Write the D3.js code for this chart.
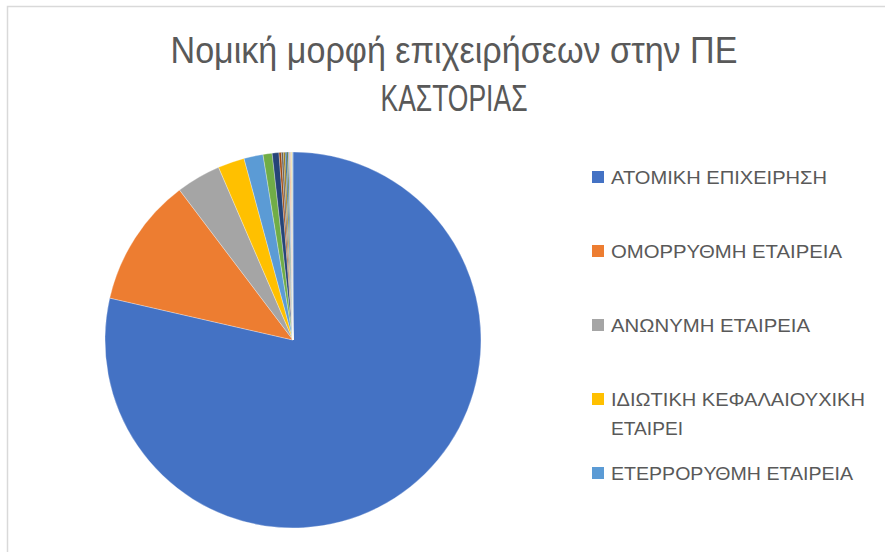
<!DOCTYPE html>
<html>
<head>
<meta charset="utf-8">
<script src="https://cdn.jsdelivr.net/npm/d3@7"></script>
<style>
  html, body { margin: 0; padding: 0; background: #fff; }
  svg { display: block; }
</style>
</head>
<body>
<svg id="chart" width="885" height="552"></svg>
<script>
// Legal forms, in chart order (only the first five fit in the legend)
const categories = [
    'ΑΤΟΜΙΚΗ ΕΠΙΧΕΙΡΗΣΗ',
    'ΟΜΟΡΡΥΘΜΗ ΕΤΑΙΡΕΙΑ',
    'ΑΝΩΝΥΜΗ ΕΤΑΙΡΕΙΑ',
    'ΙΔΙΩΤΙΚΗ ΚΕΦΑΛΑΙΟΥΧΙΚΗ ΕΤΑΙΡΕΙ',
    'ΕΤΕΡΡΟΡΥΘΜΗ ΕΤΑΙΡΕΙΑ',
    'ΕΤΑΙΡΕΙΑ ΠΕΡΙΟΡΙΣΜΕΝΗΣ ΕΥΘΥΝΗΣ',
    'ΜΟΝΟΠΡΟΣΩΠΗ ΕΠΕ',
    'ΣΥΝΕΤΑΙΡΙΣΜΟΣ',
    'ΑΣΤΙΚΗ ΕΤΑΙΡΕΙΑ',
    'ΚΟΙΝΟΠΡΑΞΙΑ',
    'ΥΠΟΚΑΤΑΣΤΗΜΑ ΑΛΛΟΔΑΠΗΣ',
    'ΚΟΙΝΩΝΙΑ ΑΣΤΙΚΟΥ ΔΙΚΑΙΟΥ',
    'ΑΦΑΝΗΣ ΕΤΑΙΡΕΙΑ',
    'ΝΠΙΔ',
    'ΝΠΔΔ',
    'ΣΩΜΑΤΕΙΟ',
    'ΑΛΛΟ'
];
// Share of businesses (%)
const shares = [78.5, 11.1, 3.83, 2.28, 1.64, 0.78, 0.58, 0.2, 0.18, 0.15, 0.14, 0.12, 0.1, 0.09, 0.08, 0.07, 0.06];
const legendCount = 5;
const titleLines = ['Νομική μορφή επιχειρήσεων στην ΠΕ', 'ΚΑΣΤΟΡΙΑΣ'];

const palette = ['#4472c4', '#ed7d31', '#a5a5a5', '#ffc000', '#5b9bd5', '#70ad47',
    '#264478', '#9e480e', '#636363', '#997300', '#255e91', '#43682b',
    '#698ed0', '#f1975a', '#b7b7b7', '#ffcd33', '#7cafdd'];

const svg = d3.select('#chart');
const textColor = '#595959';

// Chart area border (runs off the right/bottom like the screenshot)
svg.append('rect')
    .attr('x', 7.5).attr('y', 6.5)
    .attr('width', 900).attr('height', 600)
    .style('fill', '#fff')
    .style('stroke', '#d9d9d9')
    .style('stroke-width', 1.5);

// Title (squeezed to the narrow width of the original font)
const titleWidths = [567, 147];
svg.append('g').selectAll('text')
    .data(titleLines)
    .join('text')
    .attr('x', 454)
    .attr('y', (d, i) => 63 + i * 48)
    .attr('text-anchor', 'middle')
    .attr('textLength', (d, i) => titleWidths[i])
    .attr('lengthAdjust', 'spacingAndGlyphs')
    .style('font-family', '"Liberation Sans", Arial, sans-serif')
    .style('font-size', '37px')
    .style('fill', textColor)
    .text(d => d);

// Pie
const cx = 293, cy = 340, radius = 188;
const color = d3.scaleOrdinal().domain(categories).range(palette);
const pie = d3.pie().sort(null).value((d, i) => shares[i]);
const arc = d3.arc().innerRadius(0).outerRadius(radius);

svg.append('g')
    .attr('transform', `translate(${cx}, ${cy})`)
    .selectAll('path')
    .data(pie(categories))
    .join('path')
    .attr('d', arc)
    .style('fill', d => color(d.data))
    .style('stroke', '#fff')
    .style('stroke-width', 0.3);

// Legend
const legendY = d3.scalePoint()
    .domain(categories.slice(0, legendCount))
    .range([177, 473]);

const legend = svg.append('g').selectAll('g')
    .data(categories.slice(0, legendCount))
    .join('g')
    .attr('transform', d => `translate(592, ${legendY(d)})`);

legend.append('rect')
    .attr('x', 0).attr('y', -6)
    .attr('width', 12).attr('height', 12)
    .style('fill', d => color(d));

const legendLines = {
    'ΙΔΙΩΤΙΚΗ ΚΕΦΑΛΑΙΟΥΧΙΚΗ ΕΤΑΙΡΕΙ': ['ΙΔΙΩΤΙΚΗ ΚΕΦΑΛΑΙΟΥΧΙΚΗ', 'ΕΤΑΙΡΕΙ']
};
const legendWidths = {
    'ΑΤΟΜΙΚΗ ΕΠΙΧΕΙΡΗΣΗ': 216,
    'ΟΜΟΡΡΥΘΜΗ ΕΤΑΙΡΕΙΑ': 231,
    'ΑΝΩΝΥΜΗ ΕΤΑΙΡΕΙΑ': 199,
    'ΙΔΙΩΤΙΚΗ ΚΕΦΑΛΑΙΟΥΧΙΚΗ': 254,
    'ΕΤΑΙΡΕΙ': 72,
    'ΕΤΕΡΡΟΡΥΘΜΗ ΕΤΑΙΡΕΙΑ': 242
};

legend.each(function(d) {
    const lines = legendLines[d] || [d];
    d3.select(this).selectAll('text')
        .data(lines)
        .join('text')
        .attr('x', 19)
        .attr('y', (t, i) => i * 29)
        .attr('dy', '0.36em')
        .attr('textLength', t => legendWidths[t])
        .attr('lengthAdjust', 'spacingAndGlyphs')
        .style('font-family', '"Liberation Sans", Arial, sans-serif')
        .style('font-size', '19px')
        .style('fill', textColor)
        .text(t => t);
});
</script>
</body>
</html>
